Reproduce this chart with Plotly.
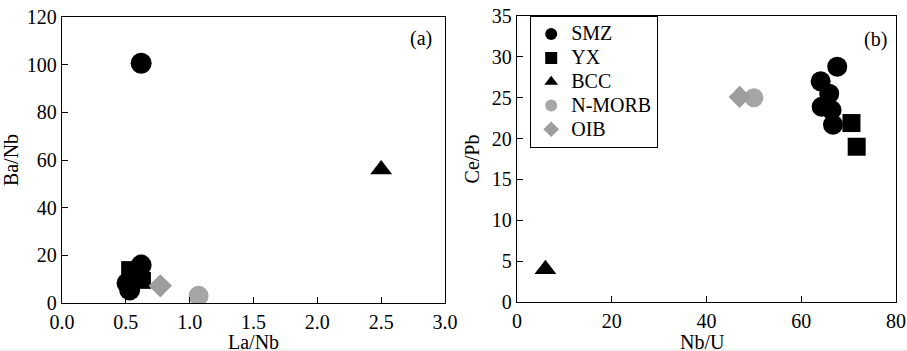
import plotly.graph_objects as go

# Panel (a): La/Nb vs Ba/Nb
smz_a_x = [0.62, 0.51, 0.53, 0.62, 0.58]
smz_a_y = [100.6, 8.3, 5.5, 15.9, 11.0]
yx_a_x = [0.53, 0.63]
yx_a_y = [14.0, 9.5]
bcc_a_x = [2.5]
bcc_a_y = [56]
nmorb_a_x = [1.07]
nmorb_a_y = [3]
oib_a_x = [0.77]
oib_a_y = [7.2]

# Panel (b): Nb/U vs Ce/Pb
smz_b_x = [67.6, 64.1, 65.9, 64.3, 66.4, 66.7]
smz_b_y = [28.8, 27.0, 25.5, 23.9, 23.5, 21.7]
yx_b_x = [70.6, 71.7]
yx_b_y = [21.9, 19.0]
bcc_b_x = [6]
bcc_b_y = [4]
nmorb_b_x = [50]
nmorb_b_y = [25]
oib_b_x = [47]
oib_b_y = [25.1]

FONT = "Times New Roman, Liberation Serif, serif"
BLACK = "#000000"
GRAY1 = "#a6a6a6"
GRAY2 = "#9d9d9d"

fig = go.Figure()

def add(x, y, name, symbol, color, size, xa, ya, show):
    fig.add_trace(go.Scatter(
        x=x, y=y, mode="markers", xaxis=xa, yaxis=ya,
        name='<span style="font-size:20px">' + name + '</span>',
        showlegend=show, legendgroup=name,
        marker=dict(symbol=symbol, color=color, size=size, line=dict(width=0)),
    ))

add(smz_a_x, smz_a_y, "SMZ", "circle", BLACK, 21, "x", "y", False)
add(yx_a_x, yx_a_y, "YX", "square", BLACK, 17, "x", "y", False)
add(bcc_a_x, bcc_a_y, "BCC", "triangle-up", BLACK, 19, "x", "y", False)
add(nmorb_a_x, nmorb_a_y, "N-MORB", "circle", GRAY1, 20, "x", "y", False)
add(oib_a_x, oib_a_y, "OIB", "diamond", GRAY2, 18, "x", "y", False)

add(smz_b_x, smz_b_y, "SMZ", "circle", BLACK, 20, "x2", "y2", True)
add(yx_b_x, yx_b_y, "YX", "square", BLACK, 18, "x2", "y2", True)
add(bcc_b_x, bcc_b_y, "BCC", "triangle-up", BLACK, 19, "x2", "y2", True)
add(nmorb_b_x, nmorb_b_y, "N-MORB", "circle", GRAY1, 19, "x2", "y2", True)
add(oib_b_x, oib_b_y, "OIB", "diamond", GRAY2, 17, "x2", "y2", True)

axis_common = dict(
    showline=True, linecolor=BLACK, linewidth=1.3, mirror=True,
    ticks="inside", ticklen=6, tickwidth=1.2, tickcolor=BLACK,
    showgrid=False, zeroline=False, automargin=False,
    tickfont=dict(family=FONT, size=20, color=BLACK),
    title_font=dict(family=FONT, size=20, color=BLACK),
)

W, H = 907, 351
title_y = 1 - 342 / H
fig.update_layout(
    width=W, height=H,
    margin=dict(l=0, r=0, t=0, b=0, autoexpand=False),
    paper_bgcolor="white", plot_bgcolor="white",
    font=dict(family=FONT, size=20, color=BLACK),
    xaxis=dict(domain=[62 / W, 445 / W], range=[0, 3], dtick=0.5, tickformat=".1f",
               ticklabelstandoff=1, anchor="y", **axis_common),
    yaxis=dict(domain=[1 - 303 / H, 1 - 17 / H], range=[0, 120], dtick=20,
               title=dict(text="Ba/Nb", standoff=6), anchor="x", **axis_common),
    xaxis2=dict(domain=[517 / W, 896 / W], range=[0, 80], dtick=20,
                ticklabelstandoff=1, anchor="y2", **axis_common),
    yaxis2=dict(domain=[1 - 302 / H, 1 - 16 / H], range=[0, 35], dtick=5,
                title=dict(text="Ce/Pb", standoff=6), anchor="x2", **axis_common),
    legend=dict(
        x=530 / W, y=1 - 16 / H, xanchor="left", yanchor="top",
        bordercolor=BLACK, borderwidth=1.2, bgcolor="white",
        font=dict(family=FONT, size=16, color=BLACK),
        itemsizing="constant", tracegroupgap=0,
    ),
    annotations=[
        dict(text="(a)", x=0.937, y=0.924, xref="x domain", yref="y domain",
             xanchor="center", yanchor="middle",
             showarrow=False, font=dict(family=FONT, size=20, color=BLACK)),
        dict(text="(b)", x=0.945, y=0.918, xref="x2 domain", yref="y2 domain",
             xanchor="center", yanchor="middle",
             showarrow=False, font=dict(family=FONT, size=20, color=BLACK)),
        dict(text="La/Nb", x=0.5, y=title_y, xref="x domain", yref="paper",
             xanchor="center", yanchor="middle",
             showarrow=False, font=dict(family=FONT, size=20, color=BLACK)),
        dict(text="Nb/U", x=0.49, y=title_y, xref="x2 domain", yref="paper",
             xanchor="center", yanchor="middle",
             showarrow=False, font=dict(family=FONT, size=20, color=BLACK)),
    ],
    shapes=[
        dict(type="rect", xref="paper", yref="paper", x0=0, x1=1, y0=0, y1=2 / H,
             fillcolor="#f0f0f0", line=dict(width=0), layer="above"),
    ],
)

fig.write_html("out.html")
